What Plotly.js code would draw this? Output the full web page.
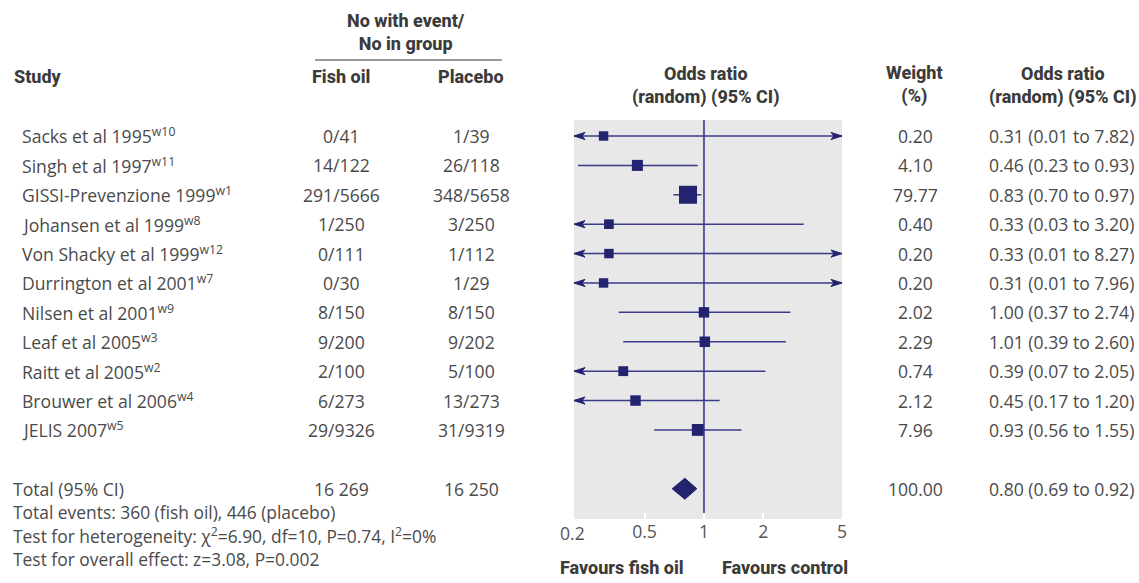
<!DOCTYPE html>
<html><head><meta charset="utf-8">
<script src="https://cdn.plot.ly/plotly-3.0.1.min.js"></script>
<style>html,body{margin:0;padding:0;background:#fff}#chart{width:1139px;height:583px}</style>
</head><body><div id="chart"></div>
<script>
const studies = ['Sacks et al 1995','Singh et al 1997','GISSI-Prevenzione 1999','Johansen et al 1999','Von Shacky et al 1999','Durrington et al 2001','Nilsen et al 2001','Leaf et al 2005','Raitt et al 2005','Brouwer et al 2006','JELIS 2007'];
const refs = ['w10','w11','w1','w8','w12','w7','w9','w3','w2','w4','w5'];
const fishOil = ['0/41','14/122','291/5666','1/250','0/111','0/30','8/150','9/200','2/100','6/273','29/9326'];
const placebo = ['1/39','26/118','348/5658','3/250','1/112','1/29','8/150','9/202','5/100','13/273','31/9319'];
const weights = [0.20,4.10,79.77,0.40,0.20,0.20,2.02,2.29,0.74,2.12,7.96];
const oddsRatio = [0.31,0.46,0.83,0.33,0.33,0.31,1.00,1.01,0.39,0.45,0.93];
const ciLow = [0.01,0.23,0.70,0.03,0.01,0.01,0.37,0.39,0.07,0.17,0.56];
const ciHigh = [7.82,0.93,0.97,3.20,8.27,7.96,2.74,2.60,2.05,1.20,1.55];

const totalLabel = 'Total (95% CI)';
const totalFishOil = '16 269';
const totalPlacebo = '16 250';
const totalWeight = 100.00;
const totalOR = 0.80, totalLow = 0.69, totalHigh = 0.92;

const footnotes = [
  'Total events: 360 (fish oil), 446 (placebo)',
  'Test for heterogeneity: \u03c7<sup>2</sup>=6.90, df=10, P=0.74, I<sup>2</sup>=0%',
  'Test for overall effect: z=3.08, P=0.002'
];
const tickValues = [0.5, 1, 2, 5];
const tickLabels = ['0.5', '1', '2', '5'];
const firstTickLabel = '0.2';

// ---- layout geometry (pixels) ----
const W = 1139, H = 583;
const PL = 574, PR = 842, PT = 120, PB = 519;
const xp = px => (px - PL) / (PR - PL);
const yp = py => (PB - py) / (PB - PT);
const xLogMin = Math.log10(0.2196), xLogMax = Math.log10(5.002);
const pxPerLog = (PR - PL) / (xLogMax - xLogMin);
const totalRow = 12;
const yRange = [13.03, -0.544];
const pxPerRow = (PB - PT) / (yRange[0] - yRange[1]);

const NAVY = '#23236f';
const LINE = '#3a3a8a';
const BODY = '#4a4a4a';
const HEAD = '#3b3b3b';
const bodyFont = {family: '"Open Sans", "Noto Sans", sans-serif', size: 17.6, color: BODY};
const footFont = {family: '"Open Sans", "Noto Sans", sans-serif', size: 17.4, color: BODY};
const headFont = {family: 'Roboto, sans-serif', size: 18, color: HEAD, weight: 800};

const rows = studies.map((_, i) => i);

// CI lines (clipped by plot area)
const ciX = [], ciY = [];
rows.forEach(i => { ciX.push(ciLow[i], ciHigh[i], null); ciY.push(i, i, null); });

// arrowheads where CI leaves axis range
const arrX = [], arrY = [];
const aLen = 11 / pxPerLog, aNotch = 8 / pxPerLog, aHalf = 3.6 / pxPerRow;
rows.forEach(i => {
  if (ciLow[i] < Math.pow(10, xLogMin)) {
    const t = xLogMin;
    arrX.push(Math.pow(10, t), Math.pow(10, t + aLen), Math.pow(10, t + aNotch), Math.pow(10, t + aLen), Math.pow(10, t), null);
    arrY.push(i, i - aHalf, i, i + aHalf, i, null);
  }
  if (ciHigh[i] > Math.pow(10, xLogMax)) {
    const t = Math.log10(5);
    arrX.push(Math.pow(10, t), Math.pow(10, t - aLen), Math.pow(10, t - aNotch), Math.pow(10, t - aLen), Math.pow(10, t), null);
    arrY.push(i, i - aHalf, i, i + aHalf, i, null);
  }
});

const dHalf = 10.5 / pxPerRow;
const traces = [
  {x: ciX, y: ciY, mode: 'lines', line: {color: LINE, width: 1.5}, hoverinfo: 'skip', showlegend: false},
  {x: arrX, y: arrY, mode: 'lines', fill: 'toself', fillcolor: NAVY, line: {color: NAVY, width: 1}, hoverinfo: 'skip', showlegend: false},
  {x: oddsRatio, y: rows, mode: 'markers', showlegend: false,
   marker: {symbol: 'square', color: NAVY, opacity: 1, size: weights.map(w => 9 + 9 * Math.sqrt(w / 80)), line: {width: 0}}},
  {x: [totalLow, totalOR, totalHigh, totalOR, totalLow], y: [totalRow, totalRow - dHalf, totalRow, totalRow + dHalf, totalRow],
   mode: 'lines', fill: 'toself', fillcolor: NAVY, line: {color: NAVY, width: 1}, showlegend: false}
];

const ann = [];
function txt(text, x, y, opts) {
  ann.push(Object.assign({text: text, x: x, y: y, xref: 'paper', yref: 'paper', showarrow: false,
    xanchor: 'center', yanchor: 'middle', font: bodyFont, borderpad: 0}, opts || {}));
}
// headers
txt('No with event/<br>No in group', xp(406), yp(31.5), {font: headFont});
txt('Study', xp(13), yp(77), {font: headFont, xanchor: 'left'});
txt('Fish oil', xp(341), yp(77), {font: headFont});
txt('Placebo', xp(471), yp(77), {font: headFont});
txt('Odds ratio<br>(random) (95% CI)', xp(706), yp(85.5), {font: headFont});
txt('Weight<br>(%)', xp(914), yp(85), {font: headFont});
txt('Odds ratio<br>(random) (95% CI)', xp(1063), yp(85.5), {font: headFont});

// rows
rows.forEach(i => {
  const yo = {yref: 'y'};
  txt(studies[i] + '<sup>' + refs[i] + '</sup>', xp(21), i, Object.assign({xanchor: 'left'}, yo));
  txt(fishOil[i], xp(341), i, yo);
  txt(placebo[i], xp(471), i, yo);
  txt(weights[i].toFixed(2), xp(915), i, yo);
  txt(oddsRatio[i].toFixed(2) + ' (' + ciLow[i].toFixed(2) + ' to ' + ciHigh[i].toFixed(2) + ')', xp(988), i, Object.assign({xanchor: 'left'}, yo));
});
// total
txt(totalLabel, xp(12), totalRow, {yref: 'y', xanchor: 'left'});
txt(totalFishOil, xp(341), totalRow, {yref: 'y'});
txt(totalPlacebo, xp(471), totalRow, {yref: 'y'});
txt(totalWeight.toFixed(2), xp(915), totalRow, {yref: 'y'});
txt(totalOR.toFixed(2) + ' (' + totalLow.toFixed(2) + ' to ' + totalHigh.toFixed(2) + ')', xp(988), totalRow, {yref: 'y', xanchor: 'left'});
// footnotes
[512, 535.5, 559].forEach((py, k) => txt(footnotes[k], xp(12), yp(py), {xanchor: 'left', font: footFont}));
// axis extras
txt(firstTickLabel, xp(572), yp(533), {font: Object.assign({}, bodyFont, {color: '#555'})});
txt('Favours fish oil', xp(622), yp(567), {font: headFont});
txt('Favours control', xp(785), yp(567), {font: headFont});

const layout = {
  width: W, height: H,
  margin: {l: PL, r: W - PR, t: PT, b: H - PB, pad: 0},
  paper_bgcolor: '#ffffff', plot_bgcolor: '#e8e8e8',
  showlegend: false,
  xaxis: {type: 'log', range: [xLogMin, xLogMax], tickvals: tickValues, ticktext: tickLabels,
    ticks: 'inside', ticklen: 6, tickwidth: 2, tickcolor: '#ffffff', showgrid: false, zeroline: false, showline: false,
    tickfont: {family: '"Open Sans", "Noto Sans", sans-serif', size: 17.6, color: '#555'}, fixedrange: true},
  yaxis: {range: yRange, showticklabels: false, ticks: '', showgrid: false, zeroline: false, showline: false, fixedrange: true},
  shapes: [
    {type: 'line', xref: 'x', yref: 'paper', x0: 1, x1: 1, y0: 0, y1: 1, line: {color: '#5a5a9e', width: 2}, layer: 'below'},
    {type: 'line', xref: 'paper', yref: 'paper', x0: xp(315), x1: xp(502), y0: yp(60), y1: yp(60), line: {color: '#777777', width: 1.5}}
  ],
  annotations: ann
};
Plotly.newPlot('chart', traces, layout, {displayModeBar: false, staticPlot: true});
</script>
</body></html>
